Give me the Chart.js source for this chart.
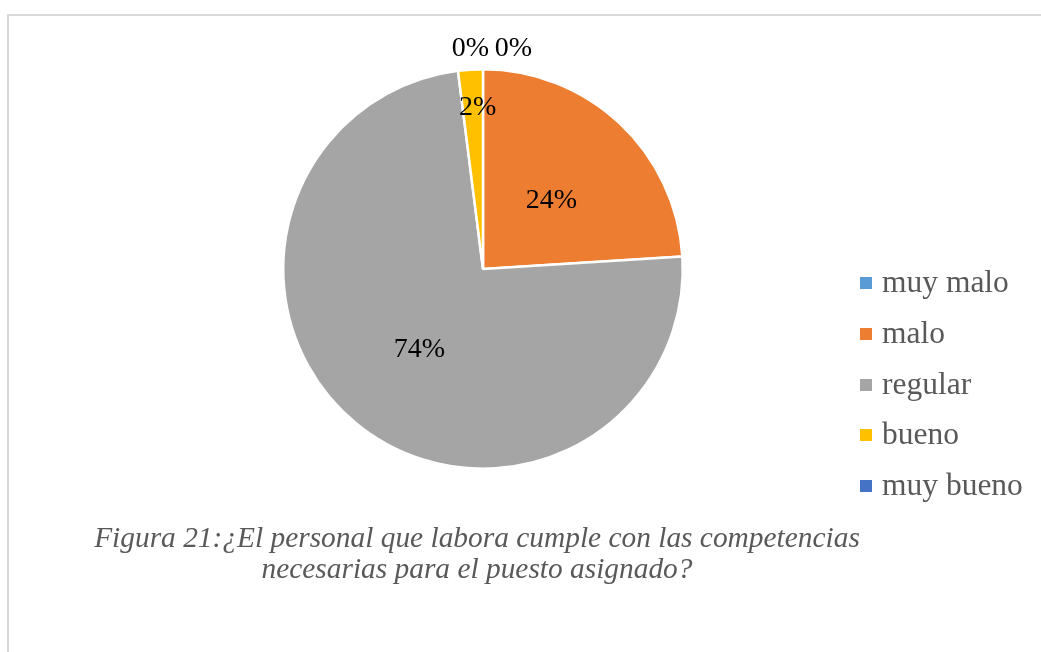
<!DOCTYPE html>
<html lang="es">
<head>
<meta charset="utf-8">
<title>Figura 21</title>
<script src="https://cdn.jsdelivr.net/npm/chart.js@4/dist/chart.umd.min.js"></script>
<style>
  html, body { margin: 0; padding: 0; background: #fff; }
  body { width: 1041px; height: 652px; position: relative; overflow: hidden; font-family: "Liberation Serif", "Times New Roman", serif; }
  .frame { position: absolute; left: 7px; top: 14px; width: 1100px; height: 700px; border-left: 2px solid #d9d9d9; border-top: 2px solid #d9d9d9; }
  .chart-box { position: absolute; left: 0; top: 0; width: 1041px; height: 652px; }
  .legend { position: absolute; left: 860px; top: 0; }
  .legend .item { position: absolute; left: 0; white-space: nowrap; font-size: 31.5px; line-height: 31px; color: #595959; }
  .legend .sw { position: absolute; left: 0; width: 12px; height: 12px; }
  .legend .txt { position: absolute; left: 22px; top: 2px; }
  .caption { position: absolute; left: 0; top: 522px; width: 954px; text-align: center; font-style: italic; font-size: 29.4px; line-height: 31px; color: #595959; }
</style>
</head>
<body>
<div class="frame"></div>
<div class="chart-box"><canvas id="pie"></canvas></div>
<div class="legend" id="legend"></div>
<div class="caption">Figura 21:¿El personal que labora cumple con las competencias<br>necesarias para el puesto asignado?</div>

<script>
const categorias = ['muy malo', 'malo', 'regular', 'bueno', 'muy bueno'];
const valores = [0, 24, 74, 2, 0];
const colores = ['#5B9BD5', '#ED7D31', '#A5A5A5', '#FFC000', '#4472C4'];

// percentage labels drawn on top of the slices
const pctLabels = {
  id: 'pctLabels',
  afterDatasetsDraw(chart) {
    const ctx = chart.ctx;
    const meta = chart.getDatasetMeta(0);
    const zeros = [];
    ctx.save();
    ctx.font = '28px "Liberation Serif"';
    ctx.fillStyle = '#000';
    ctx.textAlign = 'center';
    ctx.textBaseline = 'middle';
    const dy = 4; // digits sit a little low in the original
    meta.data.forEach((arc, i) => {
      const p = arc.getProps(['x', 'y', 'startAngle', 'endAngle', 'outerRadius'], true);
      const v = valores[i];
      if (v === 0) { zeros.push(p); return; }
      const mid = (p.startAngle + p.endAngle) / 2;
      const r = v >= 10 ? p.outerRadius * 0.5 : p.outerRadius * 0.83;
      // small slices get nudged a bit right, like the original
      const nudge = v >= 10 ? 0 : 5;
      ctx.fillText(v + '%', p.x + Math.cos(mid) * r + nudge, p.y + Math.sin(mid) * r + dy);
    });
    // empty slices all sit at 12 o'clock, put their labels side by side above the pie
    zeros.forEach((p, k) => {
      const mid = (p.startAngle + p.endAngle) / 2;
      const r = p.outerRadius + 25;
      const dx = (k - (zeros.length - 1) / 2) * 43 + 9;
      ctx.fillText('0%', p.x + Math.cos(mid) * r + dx, p.y + Math.sin(mid) * r + dy);
    });
    ctx.restore();
  }
};

new Chart(document.getElementById('pie'), {
  type: 'pie',
  data: {
    labels: categorias,
    datasets: [{
      data: valores,
      backgroundColor: colores,
      borderColor: '#fff',
      borderWidth: 2.5
    }]
  },
  options: {
    responsive: true,
    maintainAspectRatio: false,
    animation: false,
    layout: { padding: { left: 282, top: 68, right: 357, bottom: 182 } },
    plugins: {
      legend: { display: false },
      tooltip: { enabled: false }
    }
  },
  plugins: [pctLabels]
});

// legend
(function(){
  const box = document.getElementById('legend');
  const firstCenter = 283, step = 50.8;
  categorias.forEach((c, i) => {
    const cy = firstCenter + i * step;
    const item = document.createElement('div');
    item.className = 'item';
    item.style.top = (cy - 19) + 'px';
    item.innerHTML = `<span class="sw" style="background:${colores[i]};top:13px"></span><span class="txt">${c}</span>`;
    box.appendChild(item);
  });
})();
</script>
</body>
</html>
